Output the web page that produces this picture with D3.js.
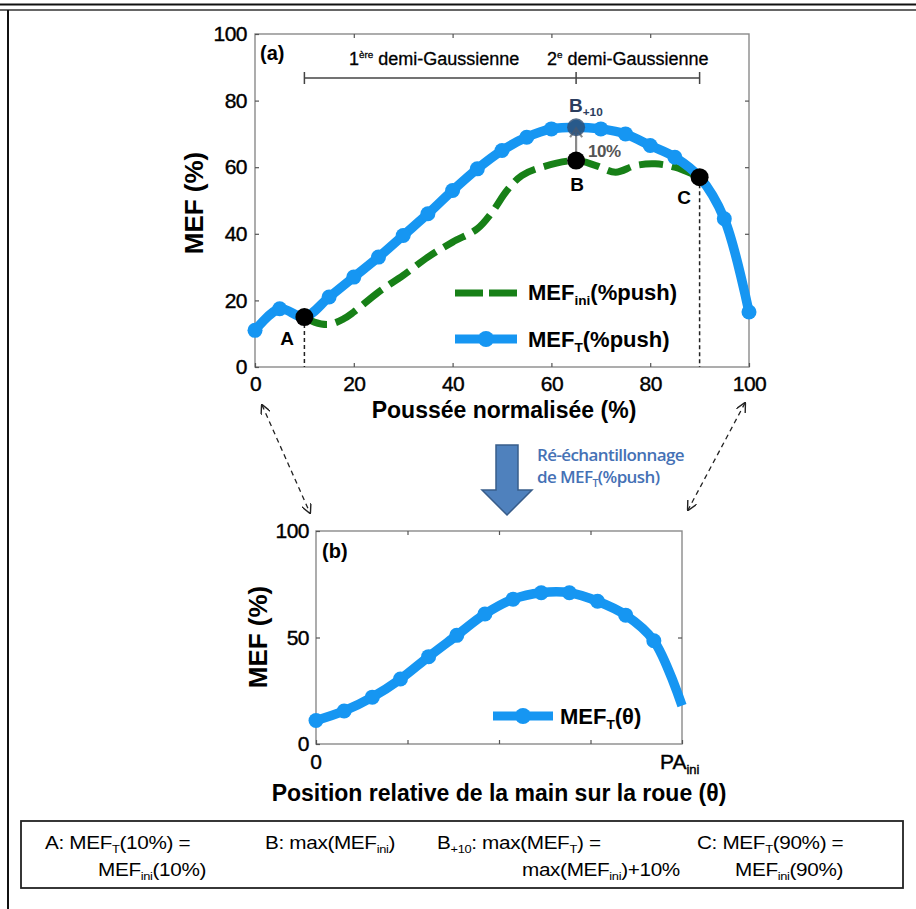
<!DOCTYPE html>
<html>
<head>
<meta charset="utf-8">
<script src="https://cdn.jsdelivr.net/npm/d3@7"></script>
<style>
  body { margin: 0; background: #fff; }
  svg { display: block; }
  text { font-family: "Liberation Sans", Arial, sans-serif; }
</style>
</head>
<body>
<div id="chart"></div>
<script>
// --- données ---
const pushX = [0, 5, 10, 15, 20, 25, 30, 35, 40, 45, 50, 55, 60, 65, 70, 75, 80, 85, 90, 95, 100];
const mefT = [11, 17.5, 15, 21, 27, 33, 39.5, 46, 53, 59.5, 65, 69, 71.5, 72, 71.5, 70, 66.5, 63, 57, 44.5, 16.5];

const iniX = [10, 12, 15, 18, 20, 25, 30, 35, 40, 45, 48, 51, 54, 58, 65, 69, 73, 77, 81, 85, 90];
const mefIni = [15, 13.5, 12.8, 14.5, 16.5, 22.5, 27.5, 33, 37.5, 41.5, 46.5, 53, 57.5, 60, 62, 60.5, 58.5, 60.5, 61, 60, 57];

const thetaX = [0, 1, 2, 3, 4, 5, 6, 7, 8, 9, 10, 11, 12, 13].map(i => i / 13);
const mefTheta = [11, 15.5, 22, 30.5, 41, 51, 61, 68, 71, 71, 67, 60.5, 48.5, 18];

const ticksA = [0, 20, 40, 60, 80, 100];
const ticksB = [0, 50, 100];
const ticksThetaX = [0, 0.25, 0.5, 0.75, 1];

// points remarquables
const ptA = [10, 15], ptB = [65, 62], ptB10 = [65, 72], ptC = [90, 57];

const width = 916, height = 909;
const blue = "#1696f2", green = "#178017";

const svg = d3.select("#chart").append("svg")
  .attr("width", width)
  .attr("height", height);

svg.append("rect").attr("width", width).attr("height", height).attr("fill", "#fff");

// cadre extérieur
svg.append("line").attr("x1", 0).attr("x2", width).attr("y1", 4.5).attr("y2", 4.5)
  .attr("stroke", "#111").attr("stroke-width", 2);
svg.append("line").attr("x1", 0).attr("x2", width).attr("y1", 10).attr("y2", 10)
  .attr("stroke", "#333").attr("stroke-width", 1.5);
svg.append("line").attr("x1", 8).attr("x2", 8).attr("y1", 10).attr("y2", height)
  .attr("stroke", "#111").attr("stroke-width", 2);

// texte avec indices / exposants (décalage reporté sur le morceau suivant)
function rich(sel, parts, size) {
  let back = 0;
  parts.forEach(p => {
    const t = sel.append("tspan").text(p[0]);
    let dy = back;
    back = 0;
    if (p[1] === "sub") {
      t.attr("font-size", size * 0.62);
      dy += size * 0.22; back = -size * 0.22;
    } else if (p[1] === "sup") {
      t.attr("font-size", size * 0.55);
      dy -= size * 0.38; back = size * 0.38;
    }
    if (dy) t.attr("dy", dy);
  });
  return sel;
}

function styleAxis(g, size) {
  g.select(".domain").remove();
  g.selectAll(".tick line").attr("stroke", "#555").attr("stroke-width", 1.2);
  g.selectAll(".tick text")
    .attr("fill", "#000")
    .attr("stroke", "#000").attr("stroke-width", 0.4)
    .style("font-size", size + "px")
    .style("letter-spacing", "-0.5px");
}

// ================= graphique (a) =================
const xa = d3.scaleLinear().domain([0, 100]).range([255, 749]);
const ya = d3.scaleLinear().domain([0, 100]).range([367, 34]);

svg.append("rect")
  .attr("x", xa(0)).attr("y", ya(100))
  .attr("width", xa(100) - xa(0)).attr("height", ya(0) - ya(100))
  .attr("fill", "none").attr("stroke", "#8a8a8a").attr("stroke-width", 1.4);

svg.append("g").attr("transform", `translate(0,${ya(0)})`)
  .call(d3.axisBottom(xa).tickValues(ticksA).tickSize(-4).tickPadding(9))
  .call(g => styleAxis(g, 21));
svg.append("g").attr("transform", `translate(0,${ya(100)})`)
  .call(d3.axisTop(xa).tickValues(ticksA.slice(1, -1)).tickSize(-4).tickFormat(""))
  .call(g => styleAxis(g, 21));
svg.append("g").attr("transform", `translate(${xa(0)},0)`)
  .call(d3.axisLeft(ya).tickValues(ticksA).tickSize(-4).tickPadding(8))
  .call(g => styleAxis(g, 21));
svg.append("g").attr("transform", `translate(${xa(100)},0)`)
  .call(d3.axisRight(ya).tickValues(ticksA.slice(1, -1)).tickSize(-4).tickFormat(""))
  .call(g => styleAxis(g, 21));

// titres d'axes
svg.append("text")
  .attr("transform", `translate(203,203) rotate(-90)`)
  .attr("text-anchor", "middle")
  .style("font-size", "26px").style("font-weight", "bold")
  .text("MEF (%)");
svg.append("text")
  .attr("x", xa(50) + 2).attr("y", 418)
  .attr("text-anchor", "middle")
  .style("font-size", "23px").style("font-weight", "bold")
  .text("Poussée normalisée (%)");

svg.append("text").attr("x", 260).attr("y", 60)
  .style("font-size", "20px").style("font-weight", "bold").text("(a)");

// demi-gaussiennes
const yBr = 78;
svg.append("line").attr("x1", xa(10)).attr("x2", xa(90)).attr("y1", yBr).attr("y2", yBr)
  .attr("stroke", "#444").attr("stroke-width", 1.5);
[10, 65, 90].forEach(v => {
  svg.append("line").attr("x1", xa(v)).attr("x2", xa(v)).attr("y1", yBr - 6).attr("y2", yBr + 6)
    .attr("stroke", "#444").attr("stroke-width", 1.5);
});
rich(svg.append("text").attr("x", 349).attr("y", 65).style("font-size", "18px")
  .attr("stroke", "#000").attr("stroke-width", 0.3),
  [["1"], ["ère", "sup"], [" demi-Gaussienne"]], 18);
rich(svg.append("text").attr("x", 547).attr("y", 65).style("font-size", "18px")
  .attr("stroke", "#000").attr("stroke-width", 0.3),
  [["2"], ["e", "sup"], [" demi-Gaussienne"]], 18);

const lineA = d3.line().curve(d3.curveCatmullRom.alpha(0.5));

// MEF_ini (pointillés verts)
svg.append("path")
  .datum(iniX.map((x, i) => [xa(x), ya(mefIni[i])]))
  .attr("d", lineA)
  .attr("fill", "none").attr("stroke", green).attr("stroke-width", 7)
  .attr("stroke-dasharray", "24,9");

// MEF_T (bleu)
svg.append("path")
  .datum(pushX.map((x, i) => [xa(x), ya(mefT[i])]))
  .attr("d", lineA)
  .attr("fill", "none").attr("stroke", blue).attr("stroke-width", 9.5)
  .attr("stroke-linejoin", "round");
svg.append("g").selectAll("circle")
  .data(pushX.map((x, i) => [x, mefT[i]]))
  .join("circle")
  .attr("cx", d => xa(d[0])).attr("cy", d => ya(d[1]))
  .attr("r", 7.5).attr("fill", blue);

// verticales A et C
[ptA, ptC].forEach(p => {
  svg.append("line").attr("x1", xa(p[0])).attr("x2", xa(p[0]))
    .attr("y1", ya(p[1])).attr("y2", ya(0))
    .attr("stroke", "#222").attr("stroke-width", 1.5).attr("stroke-dasharray", "4,3");
});

// flèche de B vers B+10
svg.append("line")
  .attr("x1", xa(ptB[0])).attr("x2", xa(ptB[0]))
  .attr("y1", ya(ptB[1]) - 8).attr("y2", ya(ptB10[1]) + 2)
  .attr("stroke", "#8a8a8a").attr("stroke-width", 2.2);
svg.append("path")
  .attr("d", `M${xa(65) - 6},${ya(72) + 10} L${xa(65)},${ya(72) + 1} L${xa(65) + 6},${ya(72) + 10}`)
  .attr("fill", "none").attr("stroke", "#8a8a8a").attr("stroke-width", 2.2);

svg.append("circle").attr("cx", xa(ptB10[0])).attr("cy", ya(ptB10[1])).attr("r", 9)
  .attr("fill", "#2d4b70").attr("opacity", 0.8);
[ptA, ptB, ptC].forEach(p => {
  svg.append("circle").attr("cx", xa(p[0])).attr("cy", ya(p[1])).attr("r", 9).attr("fill", "#000");
});

svg.append("text").attr("x", 287).attr("y", 345).attr("text-anchor", "middle")
  .style("font-size", "19px").style("font-weight", "bold").text("A");
svg.append("text").attr("x", xa(65) + 1).attr("y", 191).attr("text-anchor", "middle")
  .style("font-size", "19px").style("font-weight", "bold").text("B");
svg.append("text").attr("x", 684).attr("y", 204).attr("text-anchor", "middle")
  .style("font-size", "19px").style("font-weight", "bold").text("C");
rich(svg.append("text").attr("x", 569).attr("y", 112).attr("fill", "#2b3d5e")
  .style("font-size", "19px").style("font-weight", "bold"),
  [["B"], ["+10", "sub"]], 19);
svg.append("text").attr("x", 588).attr("y", 157).attr("fill", "#555")
  .style("font-size", "17px").style("font-weight", "bold").style("letter-spacing", "-0.5px").text("10%");

// légende (a)
svg.append("line").attr("x1", 455).attr("x2", 517).attr("y1", 293).attr("y2", 293)
  .attr("stroke", green).attr("stroke-width", 7).attr("stroke-dasharray", "28,6");
rich(svg.append("text").attr("x", 528).attr("y", 300).style("font-size", "22px").style("font-weight", "bold"),
  [["MEF"], ["ini", "sub"], ["(%push)"]], 22);
svg.append("line").attr("x1", 455).attr("x2", 517).attr("y1", 339).attr("y2", 339)
  .attr("stroke", blue).attr("stroke-width", 9);
svg.append("circle").attr("cx", 486).attr("cy", 339).attr("r", 8).attr("fill", blue);
rich(svg.append("text").attr("x", 528).attr("y", 347).style("font-size", "22px").style("font-weight", "bold"),
  [["MEF"], ["T", "sub"], ["(%push)"]], 22);

// ================= transition =================
svg.append("defs").append("marker")
  .attr("id", "open")
  .attr("viewBox", "0 0 10 10").attr("refX", 9).attr("refY", 5)
  .attr("markerWidth", 10).attr("markerHeight", 10)
  .attr("markerUnits", "userSpaceOnUse")
  .attr("orient", "auto-start-reverse")
  .append("path").attr("d", "M0,0 L10,5 L0,10")
  .attr("fill", "none").attr("stroke", "#222").attr("stroke-width", 1.4);

[[262, 405, 310, 513], [745, 403, 688, 510]].forEach(a => {
  svg.append("line")
    .attr("x1", a[0]).attr("y1", a[1]).attr("x2", a[2]).attr("y2", a[3])
    .attr("stroke", "#222").attr("stroke-width", 1.3).attr("stroke-dasharray", "5,4")
    .attr("marker-start", "url(#open)").attr("marker-end", "url(#open)");
});

svg.append("path")
  .attr("d", "M496,445 L518,445 L518,490 L532,490 L507,515 L482,490 L496,490 Z")
  .attr("fill", "#4f81bd").attr("stroke", "#385d8a").attr("stroke-width", 1.5);

svg.append("text").attr("x", 537).attr("y", 461).attr("fill", "#4571b5")
  .style("font-family", "'Open Sans', sans-serif").style("font-size", "17px").style("font-weight", "600")
  .style("letter-spacing", "-0.6px")
  .text("Ré-échantillonnage");
rich(svg.append("text").attr("x", 537).attr("y", 483).attr("fill", "#4571b5")
  .style("font-family", "'Open Sans', sans-serif").style("font-size", "17px").style("font-weight", "600")
  .style("letter-spacing", "-0.6px"),
  [["de MEF"], ["T", "sub"], ["(%push)"]], 17);

// ================= graphique (b) =================
const xb = d3.scaleLinear().domain([0, 1]).range([316, 682]);
const yb = d3.scaleLinear().domain([0, 100]).range([744, 531]);

svg.append("rect")
  .attr("x", xb(0)).attr("y", yb(100))
  .attr("width", xb(1) - xb(0)).attr("height", yb(0) - yb(100))
  .attr("fill", "none").attr("stroke", "#8a8a8a").attr("stroke-width", 1.4);

svg.append("g").attr("transform", `translate(0,${yb(0)})`)
  .call(d3.axisBottom(xb).tickValues(ticksThetaX).tickSize(-4).tickFormat(""))
  .call(g => styleAxis(g, 21));
svg.append("g").attr("transform", `translate(0,${yb(100)})`)
  .call(d3.axisTop(xb).tickValues(ticksThetaX.slice(1, -1)).tickSize(-4).tickFormat(""))
  .call(g => styleAxis(g, 21));
svg.append("g").attr("transform", `translate(${xb(0)},0)`)
  .call(d3.axisLeft(yb).tickValues(ticksB).tickSize(-4).tickPadding(7))
  .call(g => styleAxis(g, 21));
svg.append("g").attr("transform", `translate(${xb(1)},0)`)
  .call(d3.axisRight(yb).tickValues([50]).tickSize(-4).tickFormat(""))
  .call(g => styleAxis(g, 21));

svg.append("text").attr("x", xb(0)).attr("y", 769).attr("text-anchor", "middle")
  .attr("stroke", "#000").attr("stroke-width", 0.4)
  .style("font-size", "21px").text("0");
rich(svg.append("text").attr("x", xb(1) - 22).attr("y", 769).style("font-size", "21px")
  .attr("stroke", "#000").attr("stroke-width", 0.4),
  [["PA"], ["ini", "sub"]], 21);

svg.append("text")
  .attr("transform", `translate(267,637) rotate(-90)`)
  .attr("text-anchor", "middle")
  .style("font-size", "26px").style("font-weight", "bold")
  .text("MEF (%)");
svg.append("text")
  .attr("x", xb(0.5)).attr("y", 801)
  .attr("text-anchor", "middle")
  .style("font-size", "23px").style("font-weight", "bold")
  .text("Position relative de la main sur la roue (θ)");
svg.append("text").attr("x", 322).attr("y", 558)
  .style("font-size", "20px").style("font-weight", "bold").text("(b)");

svg.append("path")
  .datum(thetaX.map((x, i) => [xb(x), yb(mefTheta[i])]))
  .attr("d", lineA)
  .attr("fill", "none").attr("stroke", blue).attr("stroke-width", 9.5)
  .attr("stroke-linejoin", "round");
svg.append("g").selectAll("circle")
  .data(thetaX.slice(0, -1).map((x, i) => [x, mefTheta[i]]))
  .join("circle")
  .attr("cx", d => xb(d[0])).attr("cy", d => yb(d[1]))
  .attr("r", 7.5).attr("fill", blue);

// légende (b)
svg.append("line").attr("x1", 493).attr("x2", 553).attr("y1", 716).attr("y2", 716)
  .attr("stroke", blue).attr("stroke-width", 9);
svg.append("circle").attr("cx", 523).attr("cy", 716).attr("r", 8).attr("fill", blue);
rich(svg.append("text").attr("x", 560).attr("y", 724).style("font-size", "22px").style("font-weight", "bold"),
  [["MEF"], ["T", "sub"], ["(θ)"]], 22);

// ================= encadré =================
svg.append("rect").attr("x", 21).attr("y", 821).attr("width", 882).attr("height", 67)
  .attr("fill", "none").attr("stroke", "#222").attr("stroke-width", 1.8);

// police un peu étirée en largeur pour retrouver l'encombrement d'origine
const boxFont = 18.5;
const boxText = (x, y, parts) => rich(
  svg.append("g").attr("transform", `translate(${x},${y}) scale(1.12,1)`)
    .append("text").attr("x", 0).attr("y", 0)
    .style("font-size", boxFont + "px")
    .style("letter-spacing", "-0.3px"),
  parts, boxFont);

boxText(45, 849, [["A: MEF"], ["T", "sub"], ["(10%) ="]]);
boxText(98, 876, [["MEF"], ["ini", "sub"], ["(10%)"]]);
boxText(265, 849, [["B: max(MEF"], ["ini", "sub"], [")"]]);
boxText(437, 849, [["B"], ["+10", "sub"], [": max(MEF"], ["T", "sub"], [") ="]]);
boxText(522, 876, [["max(MEF"], ["ini", "sub"], [")+10%"]]);
boxText(697, 849, [["C: MEF"], ["T", "sub"], ["(90%) ="]]);
boxText(735, 876, [["MEF"], ["ini", "sub"], ["(90%)"]]);
</script>
</body>
</html>
